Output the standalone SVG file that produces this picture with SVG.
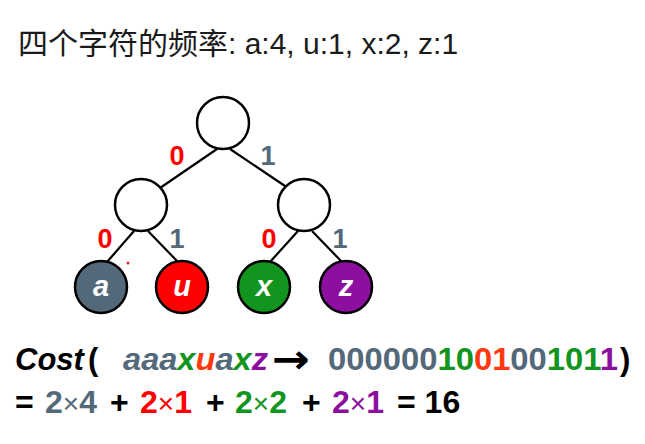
<svg xmlns="http://www.w3.org/2000/svg" width="645" height="444" viewBox="0 0 645 444">
<style>
.t{font-family:"Liberation Sans",Arial,"Noto Sans CJK SC",sans-serif}
.node{fill:#fff;stroke:#000;stroke-width:2.5}
.leaf{stroke:#000;stroke-width:2.5}
.edge{stroke:#000;stroke-width:2.2;fill:none}
.lbl{font-family:"Liberation Sans",Arial,sans-serif;font-weight:bold;font-size:27px;text-anchor:middle}
.ll{font-family:"Liberation Sans",Arial,sans-serif;font-weight:bold;font-style:italic;font-size:29px;fill:#fff;text-anchor:middle}
.b{font-family:"Liberation Sans",Arial,sans-serif;font-weight:bold;font-size:31px}
.c{font-family:"Liberation Sans",Arial,sans-serif;font-weight:bold;font-size:32px}
.x{font-weight:normal;font-size:28px}
.g{fill:#53697a}.r{fill:#ff0000}.gr{fill:#12951f}.p{fill:#8c0fa0}.o{fill:#ff3a10}
</style>
<rect width="645" height="444" fill="#fff"/>
<text class="t" x="18" y="54" font-size="30" fill="#1a1a1a">四个字符的频率: a:4, u:1, x:2, z:1</text>
<g id="connectors">
<line class="edge" x1="217" y1="149" x2="160" y2="188"/>
<line class="edge" x1="230" y1="149" x2="288" y2="188"/>
<line class="edge" x1="134" y1="231" x2="107" y2="262"/>
<line class="edge" x1="148" y1="231" x2="178" y2="262"/>
<line class="edge" x1="298" y1="231" x2="270" y2="262"/>
<line class="edge" x1="312" y1="231" x2="342" y2="262"/>
</g>
<g id="labels">
<text class="lbl r" x="177" y="165">0</text>
<text class="lbl g" x="268" y="165">1</text>
<text class="lbl r" x="105" y="248">0</text>
<text class="lbl g" x="177" y="248">1</text>
<text class="lbl r" x="269" y="248">0</text>
<text class="lbl g" x="340" y="248">1</text>
</g>
<g id="root"><circle class="node" cx="223" cy="123" r="26"/></g>
<g id="n0"><circle class="node" cx="141" cy="205" r="26"/></g>
<g id="n1"><circle class="node" cx="304" cy="205" r="26"/></g>
<g id="leaf-a"><circle class="leaf" cx="101" cy="287" r="26" fill="#53697a"/><text class="ll" x="101" y="296">a</text></g>
<g id="leaf-u"><circle class="leaf" cx="182" cy="287" r="26" fill="#ff0000"/><text class="ll" x="182" y="296">u</text></g>
<g id="leaf-x"><circle class="leaf" cx="264" cy="287" r="26" fill="#12951f"/><text class="ll" x="264" y="296">x</text></g>
<g id="leaf-z"><circle class="leaf" cx="346" cy="287" r="26" fill="#8c0fa0"/><text class="ll" x="346" y="296">z</text></g>
<circle cx="128" cy="263" r="1.5" fill="#e02020"/>
<text class="b" x="15" y="370" font-style="italic">Cost</text>
<text class="b" x="88" y="370">(</text>
<text class="b" x="123" y="370" font-style="italic" textLength="145" lengthAdjust="spacingAndGlyphs"><tspan class="g">aaa</tspan><tspan class="gr">x</tspan><tspan class="o">u</tspan><tspan class="g">a</tspan><tspan class="gr">x</tspan><tspan class="p">z</tspan></text>
<text x="272" y="373" font-family="DejaVu Sans" font-weight="bold" font-size="40" textLength="38" lengthAdjust="spacingAndGlyphs">→</text>
<text class="b" x="328" y="370" textLength="290" lengthAdjust="spacingAndGlyphs"><tspan class="g">000000</tspan><tspan class="gr">10</tspan><tspan class="o">01</tspan><tspan class="g">00</tspan><tspan class="gr">101</tspan><tspan class="p">1</tspan></text>
<text class="b" x="620" y="370">)</text>
<text class="c" x="15" y="413">=</text>
<text class="c g" x="45" y="413">2<tspan class="x">×</tspan>4</text>
<text class="c" x="110" y="413">+</text>
<text class="c r" x="140" y="413">2<tspan class="x">×</tspan>1</text>
<text class="c" x="206" y="413">+</text>
<text class="c gr" x="235" y="413">2<tspan class="x">×</tspan>2</text>
<text class="c" x="302" y="413">+</text>
<text class="c p" x="332" y="413">2<tspan class="x">×</tspan>1</text>
<text class="c" x="397" y="413">= 16</text>
</svg>
